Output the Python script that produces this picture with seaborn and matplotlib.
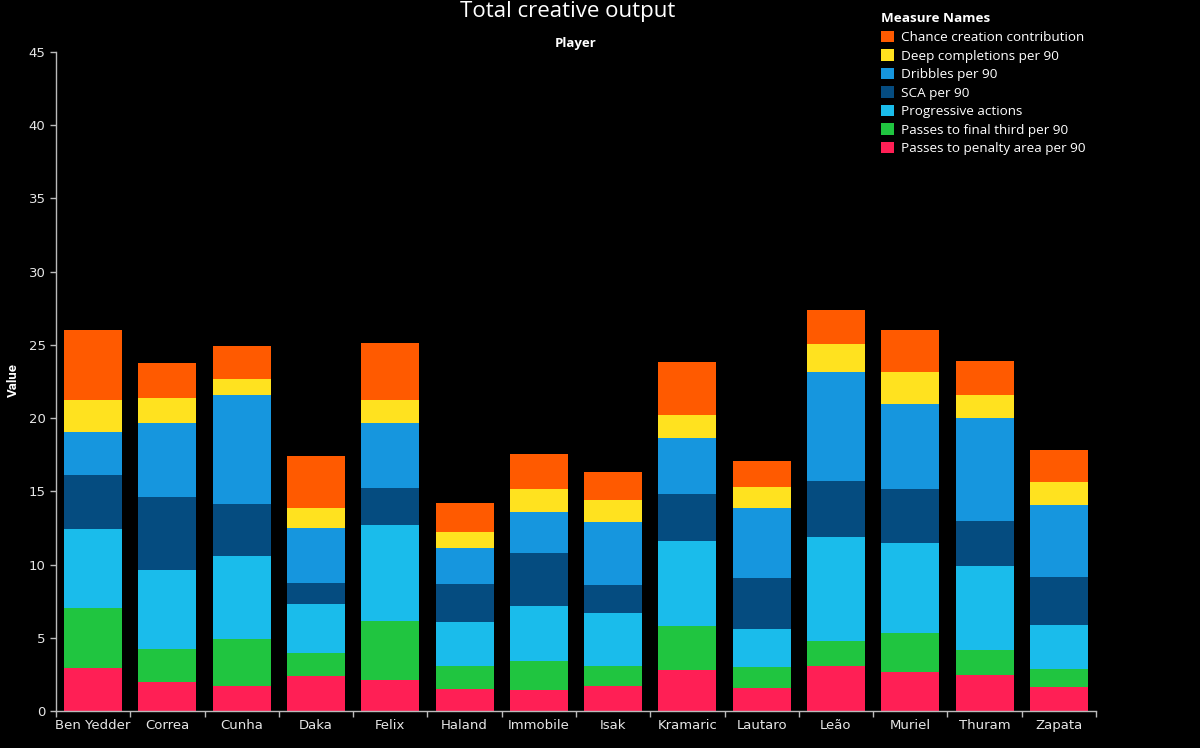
import matplotlib
import numpy as np
import pandas as pd
import matplotlib.pyplot as plt
import seaborn as sns
from matplotlib.patches import Patch

matplotlib.use('Agg')

# Data
players = ['Ben Yedder', 'Correa', 'Cunha', 'Daka', 'Felix', 'Haland', 'Immobile',
           'Isak', 'Kramaric', 'Lautaro', 'Leão', 'Muriel', 'Thuram', 'Zapata']

penalty_area = [2.91, 1.98, 1.73, 2.39, 2.11, 1.50, 1.43, 1.68, 2.80, 1.55, 3.07, 2.68, 2.48, 1.61]
final_third = [4.09, 2.27, 3.16, 1.54, 4.05, 1.57, 1.96, 1.41, 3.02, 1.47, 1.68, 2.66, 1.68, 1.23]
progressive = [5.45, 5.41, 5.68, 3.39, 6.52, 2.98, 3.81, 3.57, 5.79, 2.59, 7.14, 6.14, 5.75, 3.02]
sca = [3.69, 4.95, 3.54, 1.45, 2.57, 2.61, 3.60, 1.95, 3.23, 3.50, 3.79, 3.66, 3.09, 3.28]
dribbles = [2.91, 5.05, 7.44, 3.73, 4.41, 2.45, 2.77, 4.30, 3.82, 4.75, 7.46, 5.81, 6.98, 4.95]
deep_completions = [2.22, 1.70, 1.15, 1.36, 1.59, 1.12, 1.59, 1.50, 1.57, 1.41, 1.91, 2.21, 1.57, 1.52]
chance_creation = [4.78, 2.39, 2.19, 3.55, 3.91, 2.00, 2.36, 1.89, 3.59, 1.82, 2.36, 2.89, 2.38, 2.21]

measures = ['Chance creation contribution', 'Deep completions per 90', 'Dribbles per 90',
            'SCA per 90', 'Progressive actions', 'Passes to final third per 90',
            'Passes to penalty area per 90']
colors = ['#FF5A00', '#FFE21F', '#1696DE', '#054C80', '#1ABCEB', '#20C540', '#FF1F55']

# bottom -> top stacking order
stack = [penalty_area, final_third, progressive, sca, dribbles, deep_completions, chance_creation]
stack_colors = colors[::-1]

df = pd.DataFrame(np.array(stack).T, index=players)
cum = df.cumsum(axis=1)

sns.set_theme(style='dark', rc={'axes.facecolor': 'black', 'figure.facecolor': 'black'})
plt.rcParams['font.family'] = ['DejaVu Sans']

fig = plt.figure(figsize=(12, 7.48), dpi=100)
ax = fig.add_axes([56 / 1200, 37 / 748, 1040 / 1200, 659 / 748])

# Draw the tallest cumulative bar first, smaller ones on top
for i in range(len(stack) - 1, -1, -1):
    sns.barplot(x=players, y=cum[i].values, color=stack_colors[i], saturation=1,
                width=0.78, linewidth=0, ax=ax)

ax.set_ylim(0, 45)
ax.set_xlim(-0.5, len(players) - 0.5)
ax.set_yticks(range(0, 46, 5))
ax.set_xticks(range(len(players)))
ax.set_xticklabels(players)
ax.set_xticks(np.arange(-0.5, len(players), 1), minor=True)
ax.tick_params(axis='x', which='major', length=0, pad=6, labelsize=9.5, colors='#E6E6E6')
ax.tick_params(axis='x', which='minor', length=4, width=1, color='#BBBBBB', bottom=True)
ax.tick_params(axis='y', length=4, width=1, color='#BBBBBB', labelsize=9.5, labelcolor='#E6E6E6', left=True)
ax.grid(False)

for side in ['top', 'right']:
    ax.spines[side].set_visible(False)
for side in ['left', 'bottom']:
    ax.spines[side].set_visible(True)
    ax.spines[side].set_color('#BBBBBB')
    ax.spines[side].set_linewidth(1)

ax.set_xlabel('')
ax.set_ylabel('')
fig.text(13 / 1200, 1 - 380 / 748, 'Value', ha='center', va='center', rotation=90,
         color='white', fontsize=9.5, fontweight='bold', family='Roboto')

fig.text(568 / 1200, 1 - 11 / 748, 'Total creative output', ha='center', va='center',
         color='white', fontsize=16, family='Open Sans')
fig.text(576 / 1200, 1 - 43 / 748, 'Player', ha='center', va='center',
         color='white', fontsize=9.5, fontweight='bold', family='Open Sans')

handles = [Patch(facecolor=c, edgecolor='none') for c in colors]
leg = fig.legend(handles, measures, title='Measure Names', loc='upper left',
                 bbox_to_anchor=(876 / 1200, 1 - 7 / 748), frameon=False,
                 prop={'family': 'Open Sans', 'size': 9.7}, labelcolor='white',
                 handlelength=0.95, handleheight=0.95, handletextpad=0.5,
                 labelspacing=0.38, borderaxespad=0)
leg.get_title().set_color('white')
leg.get_title().set_fontweight('bold')
leg.get_title().set_fontsize(9.7)
leg.get_title().set_family('Open Sans')
leg._legend_box.align = 'left'

fig.savefig('out.png', dpi=100, facecolor='black')
plt.close()
